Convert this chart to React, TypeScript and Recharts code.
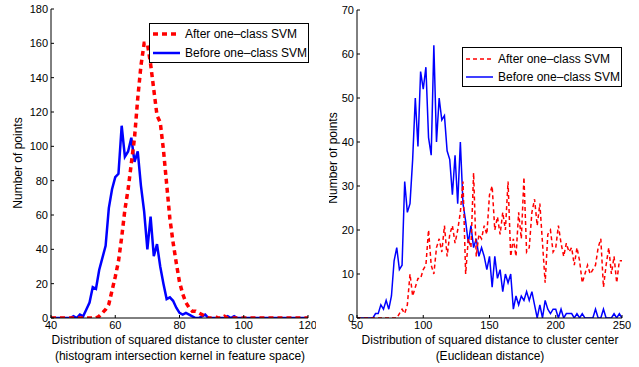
import { LineChart, Line, XAxis, YAxis, Legend } from 'recharts';

// Left panel: histogram intersection kernel, one bin per unit (x = 40..120)
const leftBefore = [
  0, 0, 0, 0, 0, 0, 0, 1, 0, 2,
  1, 5, 9, 18, 17, 28, 35, 42, 64, 75,
  82, 84, 112, 94, 97, 105, 91, 97, 77, 62,
  40, 59, 36, 43, 30, 20, 11, 12, 10, 6,
  3, 2, 3, 2, 1, 0, 0, 1, 2, 0,
  0, 0, 0, 0, 0, 1, 0, 1, 0, 0,
  0, 0, 0, 0, 0, 0, 0, 0, 0, 0,
  0, 0, 0, 0, 0, 0, 0, 0, 0, 0,
  0,
];
const leftAfter = [
  0, 0, 0, 0, 0, 0, 0, 0, 0, 0,
  0, 0, 0, 0, 0, 1, 3, 5, 8, 16,
  24, 33, 47, 63, 75, 90, 105, 128, 147, 160,
  160, 148, 133, 118, 114, 98, 78, 58, 44, 32,
  21, 14, 9, 6, 4, 4, 3, 2, 1, 0,
  0, 1, 0, 0, 1, 0, 0, 0, 0, 0,
  0, 0, 0, 0, 0, 0, 0, 0, 0, 0,
  0, 0, 0, 0, 0, 0, 0, 0, 0, 0,
  0,
];

// Right panel: Euclidean distance, sampled every 2 units (x = 50..250)
const rightBefore = [
  0, 0, 0, 0, 0, 0, 0, 1, 1, 3,
  2, 4, 2, 5, 13, 16, 11, 12, 31, 24,
  26, 36, 50, 39, 56, 52, 57, 41, 37, 62,
  40, 50, 45, 46, 38, 36, 28, 37, 26, 40,
  26, 22, 17, 21, 16, 18, 14, 16, 14, 11,
  14, 7, 14, 9, 11, 6, 10, 8, 10, 2,
  5, 3, 5, 4, 6, 4, 6, 3, 0, 3,
  0, 4, 2, 1, 2, 2, 0, 2, 0, 1,
  1, 1, 0, 1, 0, 1, 0, 0, 0, 0,
  2, 0, 0, 2, 0, 0, 0, 1, 0, 1,
  0,
];
const rightAfter = [
  0, 0, 0, 0, 0, 0, 0, 0, 0, 0,
  0, 0, 0, 0, 0, 0, 1, 2, 1, 3,
  10, 5, 7, 9, 9, 11, 12, 20, 12, 10,
  16, 18, 15, 21, 14, 19, 21, 17, 20, 24,
  31, 10, 18, 16, 33, 14, 19, 18, 21, 19,
  28, 30, 20, 23, 19, 24, 20, 31, 14, 18,
  14, 24, 18, 32, 15, 16, 24, 27, 21, 26,
  17, 8, 19, 20, 15, 16, 21, 17, 14, 17,
  15, 16, 12, 16, 13, 8, 10, 12, 10, 11,
  12, 16, 18, 7, 12, 16, 10, 14, 8, 13,
  13,
];

const leftXTicks = [40, 60, 80, 100, 120];
const leftYTicks = [0, 20, 40, 60, 80, 100, 120, 140, 160, 180];
const rightXTicks = [50, 100, 150, 200, 250];
const rightYTicks = [0, 10, 20, 30, 40, 50, 60, 70];

const afterName = 'After one\u2013class SVM';
const beforeName = 'Before one\u2013class SVM';

const leftData = leftBefore.map((v, i) => ({ x: 40 + i, before: v, after: leftAfter[i] }));
const rightData = rightBefore.map((v, i) => ({ x: 50 + 2 * i, before: v, after: rightAfter[i] }));

const FONT = '"Liberation Sans", Arial, Helvetica, sans-serif';
const RED = '#ff0000';
const BLUE = '#0000ff';

interface PanelProps {
  data: { x: number; before: number; after: number }[];
  width: number;
  yAxisWidth: number;
  marginRight: number;
  marginTop: number;
  xDomain: [number, number];
  xTicks: number[];
  yDomain: [number, number];
  yTicks: number[];
  lineWidth: number;
  dash: string;
  dashWidth: number;
  legendLeft: number;
  legendTop: number;
  legendPadTop: number;
  legendRow: number;
}

function LegendBox({ dash, dashWidth, lineWidth, padTop, row }: {
  dash: string;
  dashWidth: number;
  lineWidth: number;
  padTop: number;
  row: number;
}) {
  const items = [
    { name: afterName, color: RED, dash, w: dashWidth },
    { name: beforeName, color: BLUE, dash: undefined, w: lineWidth },
  ];
  return (
    <div
      style={{
        border: '1px solid #000',
        background: '#fff',
        width: 160,
        height: 40,
        boxSizing: 'border-box',
        paddingTop: padTop,
        fontFamily: FONT,
        fontSize: 12,
        color: '#000',
        whiteSpace: 'nowrap',
      }}
    >
      {items.map((it) => (
        <div key={it.name} style={{ display: 'flex', alignItems: 'center', height: row }}>
          <svg width={34} height={8} style={{ flex: 'none' }}>
            <line x1={3} x2={30} y1={4} y2={4} stroke={it.color} strokeWidth={it.w} strokeDasharray={it.dash} />
          </svg>
          <span style={{ marginLeft: 1 }}>{it.name}</span>
        </div>
      ))}
    </div>
  );
}

function Panel(p: PanelProps) {
  const axisStyle = { stroke: '#000', strokeWidth: 1 };
  const tickStyle = { fill: '#000', fontSize: 11, fontFamily: FONT };
  return (
    <LineChart
      width={p.width}
      height={367}
      data={p.data}
      margin={{ top: p.marginTop, right: p.marginRight, bottom: 29, left: 0 }}
    >
      <XAxis
        dataKey="x"
        type="number"
        domain={p.xDomain}
        ticks={p.xTicks}
        allowDataOverflow
        height={20}
        axisLine={axisStyle}
        tickLine={axisStyle}
        tickSize={-3}
        tickMargin={6}
        tick={tickStyle}
      />
      <XAxis
        xAxisId="top"
        dataKey="x"
        type="number"
        orientation="top"
        domain={p.xDomain}
        ticks={p.xTicks}
        allowDataOverflow
        height={0}
        axisLine={axisStyle}
        tickLine={axisStyle}
        tickSize={-3}
        tick={false}
      />
      <YAxis
        type="number"
        domain={p.yDomain}
        ticks={p.yTicks}
        allowDataOverflow
        width={p.yAxisWidth}
        axisLine={axisStyle}
        tickLine={axisStyle}
        tickSize={-3}
        tickMargin={6}
        tick={tickStyle}
      />
      <YAxis
        yAxisId="right"
        type="number"
        orientation="right"
        domain={p.yDomain}
        ticks={p.yTicks}
        allowDataOverflow
        width={0}
        axisLine={axisStyle}
        tickLine={axisStyle}
        tickSize={-3}
        tick={false}
      />
      <Line
        type="linear"
        dataKey="before"
        name={beforeName}
        stroke={BLUE}
        strokeWidth={p.lineWidth}
        dot={false}
        isAnimationActive={false}
      />
      <Line
        type="linear"
        dataKey="after"
        name={afterName}
        stroke={RED}
        strokeWidth={p.dashWidth}
        strokeDasharray={p.dash}
        dot={false}
        isAnimationActive={false}
      />
      <Legend
        layout="vertical"
        align="center"
        verticalAlign="middle"
        wrapperStyle={{ left: p.legendLeft, top: p.legendTop, width: 160, height: 40 }}
        content={() => (
          <LegendBox
            dash={p.dash}
            dashWidth={p.dashWidth}
            lineWidth={p.lineWidth}
            padTop={p.legendPadTop}
            row={p.legendRow}
          />
        )}
      />
    </LineChart>
  );
}

const titleStyle: React.CSSProperties = {
  position: 'absolute',
  fontFamily: FONT,
  fontSize: 12,
  color: '#000',
  whiteSpace: 'nowrap',
  textAlign: 'center',
  lineHeight: '16px',
};

export default function App() {
  return (
    <div
      style={{
        position: 'absolute',
        left: 0,
        top: 0,
        width: 639,
        height: 367,
        background: '#fff',
        overflow: 'hidden',
        fontFamily: FONT,
      }}
    >
      <div style={{ position: 'absolute', left: 0, top: 0, width: 316, height: 367, overflow: 'hidden' }}>
        <Panel
          data={leftData}
          width={316}
          yAxisWidth={51}
          marginRight={8}
          marginTop={9}
          xDomain={[40, 120]}
          xTicks={leftXTicks}
          yDomain={[0, 180]}
          yTicks={leftYTicks}
          lineWidth={2.5}
          dash="5 4"
          dashWidth={3.5}
          legendLeft={149}
          legendTop={23}
          legendPadTop={0}
          legendRow={19}
        />
      </div>
      <div style={{ position: 'absolute', left: 329, top: 0, width: 303, height: 367, overflow: 'hidden' }}>
        <Panel
          data={rightData}
          width={303}
          yAxisWidth={28}
          marginRight={10}
          marginTop={10}
          xDomain={[50, 250]}
          xTicks={rightXTicks}
          yDomain={[0, 70]}
          yTicks={rightYTicks}
          lineWidth={1.5}
          dash="4 3"
          dashWidth={1.5}
          legendLeft={133}
          legendTop={47}
          legendPadTop={2}
          legendRow={18}
        />
        <div
          style={{
            ...titleStyle,
            left: 4,
            top: 158,
            transform: 'translate(-50%, -50%) rotate(-90deg)',
          }}
        >
          Number of points
        </div>
      </div>
      <div style={{ ...titleStyle, left: 18, top: 163, transform: 'translate(-50%, -50%) rotate(-90deg)' }}>
        Number of points
      </div>
      <div style={{ ...titleStyle, left: 180, top: 332, transform: 'translateX(-50%)' }}>
        Distribution of squared distance to cluster center
        <br />
        (histogram intersection kernel in feature space)
      </div>
      <div style={{ ...titleStyle, left: 490, top: 332, transform: 'translateX(-50%)' }}>
        Distribution of squared distance to cluster center
        <br />
        (Euclidean distance)
      </div>
    </div>
  );
}
